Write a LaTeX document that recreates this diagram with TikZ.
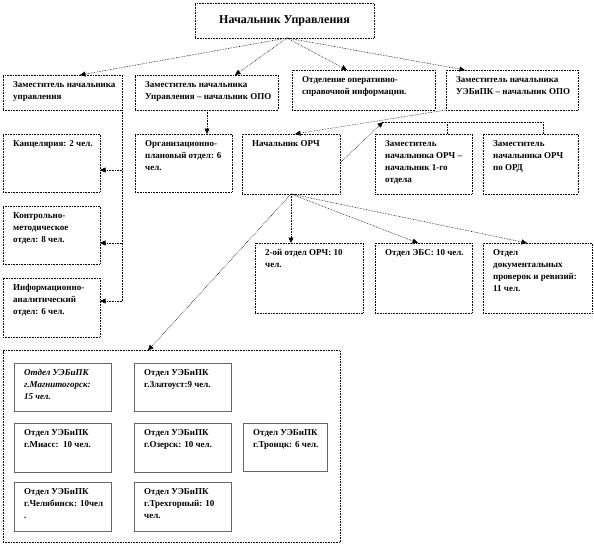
\documentclass[tikz,border=0pt]{standalone}
\usepackage{fontspec}
\setmainfont{Liberation Serif}
\usetikzlibrary{arrows.meta,calc}
\tikzset{
  boxst/.style={draw, densely dotted, line width=0.6pt, inner sep=0pt, outer sep=0pt},
  ibox/.style={draw=black!60, line width=0.8pt, inner sep=0pt, outer sep=0pt},
  txt/.style={inner sep=0pt, align=left, font=\bfseries\fontsize{9}{12}\selectfont},
  conn/.style={densely dotted, line width=0.6pt, -{Triangle[length=5.5pt,width=5pt]}},
  plain/.style={densely dotted, line width=0.6pt},
}
\newcommand\mkbox[7]{%
  \node[#6, minimum width={#4pt-#2pt}, minimum height={#5pt-#3pt}] (#1) at ({(#2+#4)/2},{(#3+#5)/2}) {};
  \node[txt, anchor=north west] (#1t) at ([shift={(10,6)}]#1.north west) {#7};}
\newcommand\wide{\fontsize{9}{13}\selectfont}
\begin{document}
\begin{tikzpicture}[x=1pt,y=-1pt]
\useasboundingbox (0,0) rectangle (594,555);
% top
\node[boxst, minimum width=179pt, minimum height=35pt, font=\bfseries\fontsize{12}{14}\selectfont] (top) at (284.5,20.5) {Начальник Управления};
\coordinate (tp) at (287,38);
% row 2
\mkbox{A}{3}{75}{122}{110}{boxst}{\wide Заместитель начальника\\\wide управления}
\mkbox{B}{135}{75}{278}{110}{boxst}{\wide Заместитель начальника\\\wide Управления – начальник ОПО}
\mkbox{C}{292}{70}{435}{110}{boxst}{\wide Отделение оперативно-\\\wide справочной информации.}
\mkbox{D}{446}{70}{578}{110}{boxst}{\wide Заместитель начальника\\\wide УЭБиПК – начальник ОПО}
% left column
\mkbox{kanc}{3}{134}{100}{192}{boxst}{Канцелярия: 2 чел.}
\mkbox{kontr}{3}{206}{100}{264}{boxst}{Контрольно-\\методическое\\отдел: 8 чел.}
\mkbox{inf}{3}{278}{100}{337}{boxst}{Информационно-\\аналитический\\отдел: 6 чел.}
% row 3
\mkbox{org}{135}{134}{232}{192}{boxst}{Организационно-\\плановый отдел: 6\\чел.}
\mkbox{orch}{242}{134}{340}{194}{boxst}{Начальник ОРЧ}
\mkbox{E}{375}{134}{472}{194}{boxst}{Заместитель\\начальника ОРЧ –\\начальник 1-го\\отдела}
\mkbox{F}{483}{134}{578}{194}{boxst}{Заместитель\\начальника ОРЧ\\по ОРД}
% row 4
\mkbox{two}{255}{243}{363}{313}{boxst}{2-ой отдел ОРЧ: 10\\чел.}
\mkbox{ebs}{375}{243}{472}{313}{boxst}{Отдел ЭБС: 10 чел.}
\mkbox{dok}{483}{243}{592}{313}{boxst}{Отдел\\документальных\\проверок и ревизий:\\11 чел.}
% outer box
\node[boxst, minimum width=337pt, minimum height=192pt] (outer) at (171.5,446.5) {};
\mkbox{magn}{14}{363}{111}{411}{ibox}{\itshape Отдел УЭБиПК\\\itshape г.Магнитогорск:\\\itshape 15 чел.}
\mkbox{zlat}{134}{363}{231}{411}{ibox}{Отдел УЭБиПК\\г.Златоуст:9 чел.}
\mkbox{miass}{14}{423}{111}{472}{ibox}{Отдел УЭБиПК\\г.Миасс:\ \ 10 чел.}
\mkbox{ozer}{134}{423}{231}{472}{ibox}{Отдел УЭБиПК\\г.Озерск: 10 чел.}
\mkbox{troi}{243}{423}{327}{471}{ibox}{Отдел УЭБиПК\\г.Троицк: 6 чел.}
\mkbox{chel}{14}{482}{111}{531}{ibox}{Отдел УЭБиПК\\г.Челябинск: 10чел\\.}
\mkbox{treh}{134}{482}{231}{531}{ibox}{Отдел УЭБиПК\\г.Трехгорный: 10\\чел.}
% connectors from top
\draw[conn] (tp) -- ([xshift=17.5]A.north);
\draw[conn] (tp) -- ([xshift=28.5]B.north);
\draw[conn] (tp) -- ([xshift=-16.5]C.north);
\draw[conn] (tp) -- ([xshift=-47]D.north);
% B -> org
\draw[conn] (B.south -| org.north east) ++(-25,0) coordinate (bs) -- (bs |- org.north);
% A bus
\coordinate (ab) at (A.south east);
\draw[plain] (ab) -- ([shift={(22,23)}]inf.north east);
\draw[conn] ([shift={(22,36)}]kanc.north east) -- ([shift={(0,36)}]kanc.north east);
\draw[conn] ([shift={(22,37)}]kontr.north east) -- ([shift={(0,37)}]kontr.north east);
\draw[conn] ([shift={(22,23)}]inf.north east) -- ([shift={(0,23)}]inf.north east);
% D -> orch
\draw[conn] (D.south west) -- ([xshift=4]orch.north);
% orch -> bracket
\coordinate (br) at (383,122);
\draw[conn] ([shift={(0,29)}]orch.north east) -- (br);
\draw[plain] (br) -| ([xshift=12.5]F.north);
\coordinate (ej) at ([xshift=23.5]E.north);
\draw[plain] (ej) -- (ej |- br);
% orch -> lower
\draw[conn] (orch.south) -- (orch.south |- two.north);
\draw[conn] (orch.south) -- ([xshift=-5.5]ebs.north);
\draw[conn] (orch.south) -- ([xshift=-10.5]dok.north);
\draw[conn] (orch.south) -- ([xshift=-23.5]outer.north);
\end{tikzpicture}
\end{document}
